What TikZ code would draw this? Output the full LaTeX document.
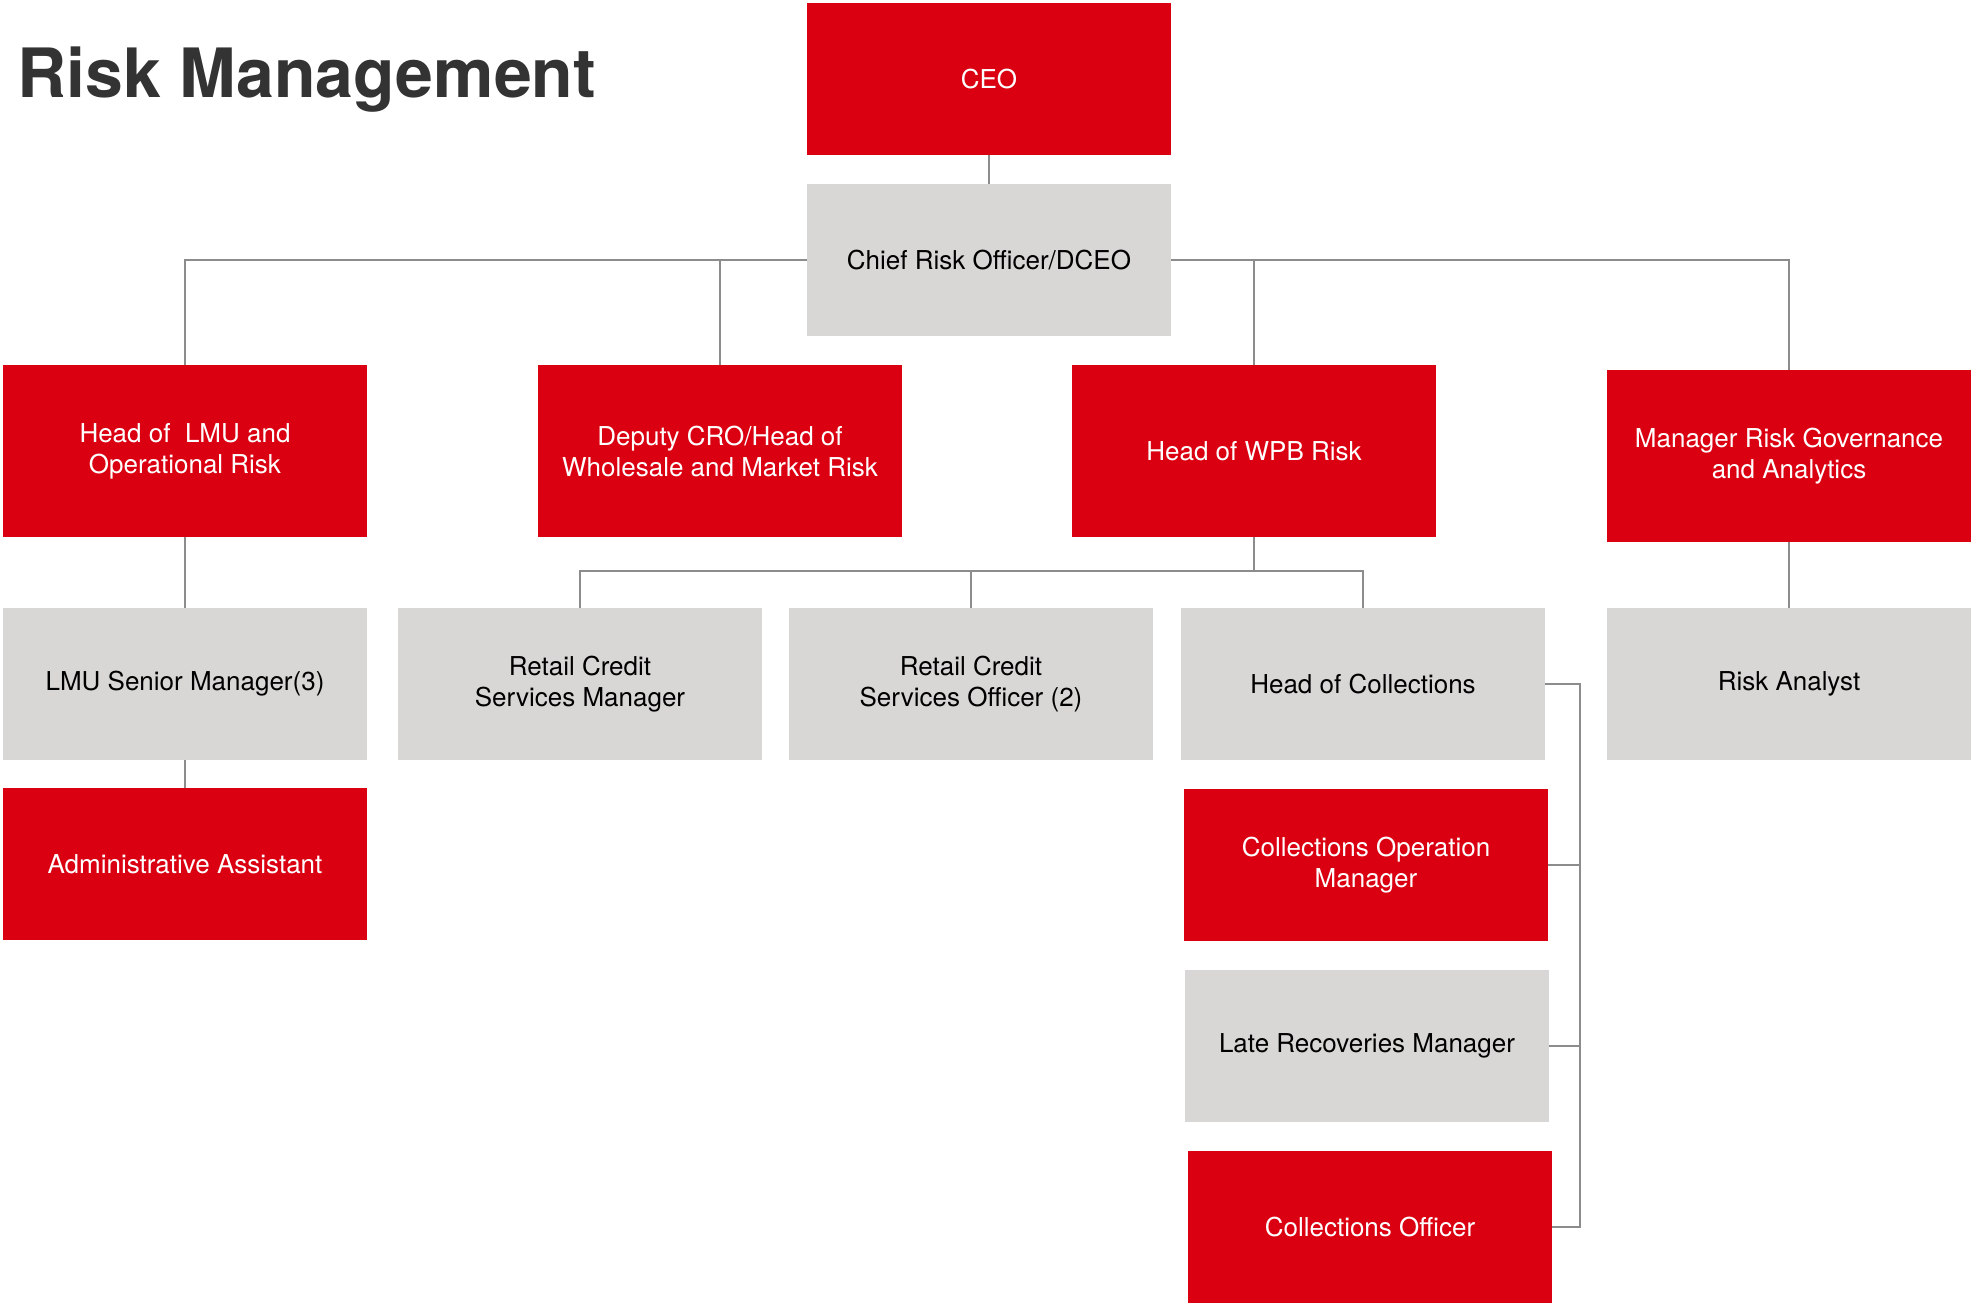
\documentclass[tikz,border=0pt]{standalone}
\usepackage{fontspec}
\setmainfont{TeX Gyre Heros}
\usepackage{xcolor}
\usetikzlibrary{positioning,calc}

\definecolor{riskred}{HTML}{DB0011}
\definecolor{riskgrey}{HTML}{D8D7D5}
\definecolor{linkgrey}{HTML}{8C8C8C}
\definecolor{titlegrey}{HTML}{333333}

\begin{document}
\begin{tikzpicture}[
      x=1pt, y=-1pt,
      post/.style={
        rectangle,
        minimum width=364pt,
        minimum height=152pt,
        inner sep=2pt,
        align=center,
        font=\fontsize{26}{31}\selectfont
      },
      redpost/.style={post,fill=riskred,text=white},
      greypost/.style={post,fill=riskgrey,text=black},
      headpost/.style={redpost,minimum height=172pt},
      link/.style={draw=linkgrey,line width=2pt}
    ]
    \useasboundingbox (0,0) rectangle (1973,1303);

    % Title
    \node[anchor=base west,inner sep=0pt,text=titlegrey,
          font=\fontsize{68}{80}\selectfont\bfseries] (title) at (17,98) {Risk Management};

    % Top of the chart
    \node[redpost] (ceo) at (989,79) {CEO};
    \node[greypost] (cro) at (989,260) {Chief Risk Officer/DCEO};

    % Heads
    \node[headpost] (lmu) at (185,451) {Head of~ LMU and\\Operational Risk};
    \node[headpost] (dep) at (720,451) {Deputy CRO/Head of\\Wholesale and Market Risk};
    \node[headpost] (wpb) at (1254,451) {Head of WPB Risk};
    \node[headpost] (mrg) at (1789,456) {Manager Risk Governance\\and Analytics};

    % Staff row
    \node[greypost] (lsm) at (185,684) {LMU Senior Manager(3)};
    \node[greypost] (rcsm) at (580,684) {Retail Credit\\Services Manager};
    \node[greypost] (rcso) at (971,684) {Retail Credit\\Services Officer (2)};
    \node[greypost] (hoc) at (1363,684) {Head of Collections};
    \node[greypost] (ra) at (1789,684) {Risk Analyst};

    \node[redpost,below=28pt of lsm] (admin) {Administrative Assistant};

    % Collections team
    \node[redpost] (com) at (1366,865) {Collections Operation\\Manager};
    \node[greypost] (lrm) at (1367,1046) {Late Recoveries Manager};
    \node[redpost] (cof) at (1370,1227) {Collections Officer};

    % Links
    \draw[link] (ceo) -- (cro);
    \draw[link] (cro.west) -| (lmu.north);
    \draw[link] (cro.west) -| (dep.north);
    \draw[link] (cro.east) -| (wpb.north);
    \draw[link] (cro.east) -| (mrg.north);
    \draw[link] (lmu) -- (lsm);
    \draw[link] (lsm) -- (admin);
    \draw[link] (mrg) -- (ra);

    \draw[link] (wpb.south) -- ++(0,34) coordinate (wpbbus);
    \draw[link] (rcsm.north) |- (wpbbus) -| (hoc.north);
    \draw[link] (rcso.north) -- (rcso.north |- wpbbus);

    \draw[link] (hoc.east) -- ++(35,0) coordinate (hocside) |- (cof.east);
    \draw[link] (com.east) -- (com.east -| hocside);
    \draw[link] (lrm.east) -- (lrm.east -| hocside);
  \end{tikzpicture}
\end{document}
